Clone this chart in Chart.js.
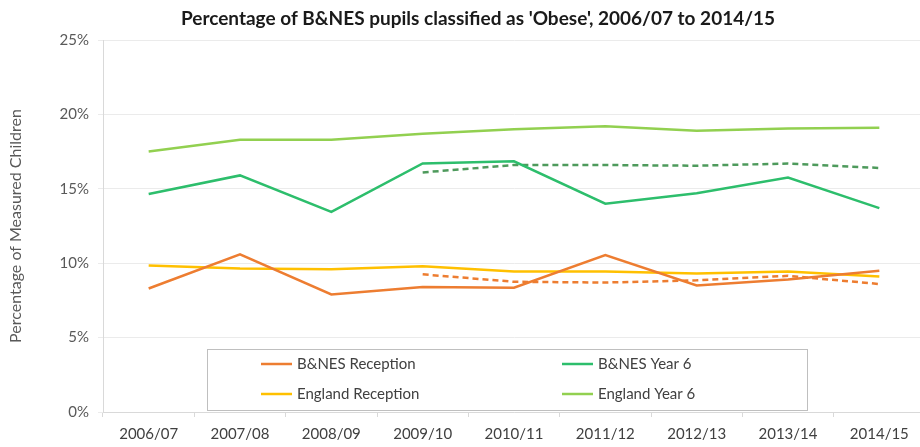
<!DOCTYPE html>
<html>
<head>
<meta charset="utf-8">
<script src="https://cdn.jsdelivr.net/npm/chart.js@4"></script>
<style>
  html, body { margin: 0; padding: 0; background: #fff; overflow: hidden; }
  #wrap { width: 956px; height: 447px; }
</style>
</head>
<body>
<div id="wrap"><canvas id="obeseChart" width="956" height="447"></canvas></div>
<script>
// School years
const years = ['2006/07', '2007/08', '2008/09', '2009/10', '2010/11', '2011/12', '2012/13', '2013/14', '2014/15'];

// % of measured children classified obese
const bnesReception = [8.3, 10.6, 7.9, 8.4, 8.35, 10.55, 8.5, 8.9, 9.5];
const bnesYear6 = [14.65, 15.9, 13.45, 16.7, 16.85, 14.0, 14.7, 15.75, 13.7];
const englandReception = [9.85, 9.65, 9.6, 9.8, 9.45, 9.45, 9.3, 9.45, 9.1];
const englandYear6 = [17.5, 18.3, 18.3, 18.7, 19.0, 19.2, 18.9, 19.05, 19.1];

// dashed lines (no legend entry), from 2009/10 on
const receptionDashed = [null, null, null, 9.25, 8.75, 8.7, 8.85, 9.15, 8.6];
const year6Dashed = [null, null, null, 16.1, 16.6, 16.6, 16.55, 16.7, 16.4];

const yTicks = [0, 5, 10, 15, 20, 25];

const chartTitle = "Percentage of B&NES pupils classified as 'Obese', 2006/07 to 2014/15";

const FONT = 'Lato, "Open Sans", sans-serif';
const TEXT = '#404040';

// title, centred on the original (wider) chart
const topTitle = {
  id: 'topTitle',
  afterDraw(chart) {
    const ctx = chart.ctx;
    ctx.save();
    ctx.font = 'bold 19px ' + FONT;
    ctx.fillStyle = '#1a1a1a';
    ctx.textAlign = 'center';
    ctx.textBaseline = 'middle';
    ctx.fillText(chartTitle, chart.width / 2, 19);
    ctx.restore();
  }
};

// legend drawn inside the plot, boxed, two columns
const boxLegend = {
  id: 'boxLegend',
  afterDraw(chart) {
    const ctx = chart.ctx;
    const x0 = 207, y0 = 349, w = 600, h = 61;
    ctx.save();
    ctx.fillStyle = '#ffffff';
    ctx.fillRect(x0, y0, w, h);
    ctx.strokeStyle = '#bfbfbf';
    ctx.lineWidth = 1;
    ctx.strokeRect(x0 + 0.5, y0 + 0.5, w, h);
    const items = chart.data.datasets.filter(d => d.inLegend);
    ctx.font = '15px ' + FONT;
    ctx.textBaseline = 'middle';
    items.forEach((d, i) => {
      const col = i % 2, row = Math.floor(i / 2);
      const lx = 261 + col * 301;
      const ly = 364 + row * 30;
      ctx.strokeStyle = d.borderColor;
      ctx.lineWidth = 2.5;
      ctx.beginPath();
      ctx.moveTo(lx, ly);
      ctx.lineTo(lx + 31, ly);
      ctx.stroke();
      ctx.fillStyle = TEXT;
      ctx.fillText(d.label, lx + 36, ly);
    });
    ctx.restore();
  }
};

const ctx = document.getElementById('obeseChart').getContext('2d');
new Chart(ctx, {
  type: 'line',
  data: {
    labels: years,
    datasets: [
      { label: 'B&NES Reception', data: bnesReception, borderColor: '#ED7D31', inLegend: true },
      { label: 'B&NES Year 6', data: bnesYear6, borderColor: '#2DBE6C', inLegend: true },
      { label: 'England Reception', data: englandReception, borderColor: '#FFC000', inLegend: true },
      { label: 'England Year 6', data: englandYear6, borderColor: '#92D050', inLegend: true },
      { label: 'B&NES Reception (dashed)', data: receptionDashed, borderColor: '#ED7D31', borderDash: [6, 4] },
      { label: 'B&NES Year 6 (dashed)', data: year6Dashed, borderColor: '#4E9A5C', borderDash: [6, 4] }
    ].map(d => Object.assign({ borderWidth: 2.5, pointRadius: 0, tension: 0, fill: false, spanGaps: false }, d))
  },
  options: {
    responsive: false,
    animation: false,
    layout: { padding: { left: 0, right: 31, top: 40, bottom: 0 } },
    plugins: {
      legend: { display: false },
      tooltip: { enabled: false },
      title: { display: false }
    },
    scales: {
      x: {
        offset: true,
        afterFit(axis) { axis.height = 35; },
        grid: { offset: true, drawOnChartArea: false, tickLength: 5, color: '#d9d9d9' },
        border: { color: '#d9d9d9' },
        ticks: { color: TEXT, font: { family: FONT, size: 15 }, padding: 8, maxRotation: 0, autoSkip: false }
      },
      y: {
        min: 0,
        max: 25,
        afterBuildTicks(axis) { axis.ticks = yTicks.map(v => ({ value: v })); },
        afterFit(axis) { axis.width = 103; },
        grid: { color: '#ebebeb', tickLength: 5 },
        border: { color: '#d9d9d9' },
        ticks: {
          color: '#595959',
          font: { family: FONT, size: 15 },
          padding: 9,
          callback: v => v + '%'
        },
        title: {
          display: true,
          text: 'Percentage of Measured Children',
          color: '#595959',
          font: { family: FONT, size: 16 },
          padding: { top: 6, bottom: 0 }
        }
      }
    }
  },
  plugins: [topTitle, boxLegend]
});
</script>
</body>
</html>
